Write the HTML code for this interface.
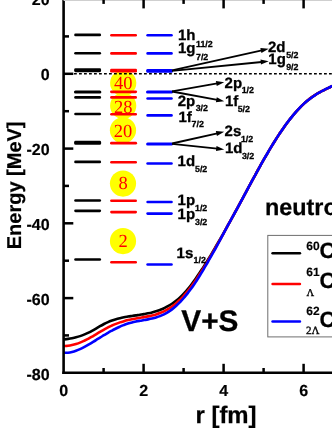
<!DOCTYPE html>
<html><head><meta charset="utf-8"><title>chart</title>
<style>
html,body{margin:0;padding:0;background:#fff;overflow:hidden}
svg{display:block;font-family:"Liberation Sans",sans-serif;text-rendering:geometricPrecision;will-change:transform;transform:translateZ(0)}
.sf{font-family:"Liberation Serif",serif}
</style></head><body>
<svg width="332" height="430" viewBox="0 0 332 430">
<rect width="332" height="430" fill="#fff"/>
<circle cx="123.2" cy="83.1" r="13.1" fill="#ffff00"/><circle cx="123.2" cy="105.8" r="13.1" fill="#ffff00"/><circle cx="123.0" cy="130.3" r="13.1" fill="#ffff00"/><circle cx="123.0" cy="183.6" r="13.1" fill="#ffff00"/><circle cx="123.0" cy="241.1" r="13.1" fill="#ffff00"/>
<line x1="64" y1="73.8" x2="332" y2="73.8" stroke="#000" stroke-width="1.6" stroke-dasharray="2.8 2.2"/>
<path d="M64.0,339.40 C64.7,339.32 66.7,339.10 68.0,338.90 C69.3,338.70 70.7,338.47 72.0,338.20 C73.3,337.93 74.7,337.63 76.0,337.28 C77.3,336.93 78.7,336.55 80.0,336.11 C81.3,335.68 82.7,335.20 84.0,334.67 C85.3,334.14 86.7,333.56 88.0,332.93 C89.3,332.29 90.7,331.59 92.0,330.86 C93.3,330.13 94.7,329.34 96.0,328.56 C97.3,327.78 98.7,326.97 100.0,326.20 C101.3,325.44 102.7,324.67 104.0,323.98 C105.3,323.29 106.7,322.65 108.0,322.07 C109.3,321.49 110.7,320.97 112.0,320.50 C113.3,320.02 114.7,319.60 116.0,319.21 C117.3,318.82 118.7,318.48 120.0,318.16 C121.3,317.84 122.7,317.56 124.0,317.30 C125.3,317.04 126.7,316.81 128.0,316.58 C129.3,316.35 130.7,316.15 132.0,315.95 C133.3,315.75 134.7,315.56 136.0,315.36 C137.3,315.16 138.7,314.97 140.0,314.76 C141.3,314.55 142.7,314.34 144.0,314.11 C145.3,313.87 146.7,313.63 148.0,313.35 C149.3,313.07 150.7,312.77 152.0,312.43 C153.3,312.09 154.7,311.72 156.0,311.31 C157.3,310.89 158.7,310.44 160.0,309.93 C161.3,309.41 162.7,308.86 164.0,308.24 C165.3,307.61 166.7,306.94 168.0,306.19 C169.3,305.44 170.7,304.63 172.0,303.73 C173.3,302.83 174.7,301.86 176.0,300.80 C177.3,299.74 178.7,298.60 180.0,297.36 C181.3,296.12 182.7,294.78 184.0,293.35 C185.3,291.92 186.7,290.38 188.0,288.77 C189.3,287.16 190.7,285.45 192.0,283.68 C193.3,281.91 194.7,280.06 196.0,278.15 C197.3,276.25 198.7,274.27 200.0,272.26 C201.3,270.24 202.7,268.17 204.0,266.07 C205.3,263.97 206.7,261.82 208.0,259.65 C209.3,257.48 210.7,255.26 212.0,253.03 C213.3,250.80 214.7,248.54 216.0,246.26 C217.3,243.98 218.7,241.69 220.0,239.37 C221.3,237.06 222.7,234.73 224.0,232.37 C225.3,230.02 226.7,227.64 228.0,225.24 C229.3,222.85 230.7,220.42 232.0,217.99 C233.3,215.55 234.7,213.09 236.0,210.63 C237.3,208.16 238.7,205.68 240.0,203.20 C241.3,200.72 242.7,198.23 244.0,195.74 C245.3,193.26 246.7,190.77 248.0,188.29 C249.3,185.81 250.7,183.34 252.0,180.88 C253.3,178.42 254.7,175.97 256.0,173.54 C257.3,171.11 258.7,168.70 260.0,166.31 C261.3,163.93 262.7,161.56 264.0,159.23 C265.3,156.90 266.7,154.59 268.0,152.32 C269.3,150.06 270.7,147.82 272.0,145.63 C273.3,143.45 274.7,141.30 276.0,139.20 C277.3,137.10 278.7,135.04 280.0,133.05 C281.3,131.05 282.7,129.10 284.0,127.21 C285.3,125.33 286.7,123.50 288.0,121.73 C289.3,119.97 290.7,118.26 292.0,116.63 C293.3,114.99 294.7,113.41 296.0,111.90 C297.3,110.39 298.7,108.94 300.0,107.56 C301.3,106.19 302.7,104.88 304.0,103.64 C305.3,102.40 306.7,101.23 308.0,100.14 C309.3,99.04 310.7,98.02 312.0,97.07 C313.3,96.12 314.7,95.25 316.0,94.43 C317.3,93.60 318.7,92.85 320.0,92.13 C321.3,91.40 322.7,90.73 324.0,90.07 C325.3,89.40 326.7,88.78 328.0,88.14 C329.3,87.50 330.7,86.89 332.0,86.24 C333.3,85.59 335.3,84.59 336.0,84.26" fill="none" stroke="#000" stroke-width="2.6" stroke-linejoin="round"/>
<path d="M64.0,346.09 C64.7,346.04 66.7,345.95 68.0,345.79 C69.3,345.62 70.7,345.38 72.0,345.09 C73.3,344.80 74.7,344.44 76.0,344.03 C77.3,343.62 78.7,343.15 80.0,342.63 C81.3,342.11 82.7,341.54 84.0,340.93 C85.3,340.31 86.7,339.65 88.0,338.95 C89.3,338.24 90.7,337.49 92.0,336.71 C93.3,335.94 94.7,335.12 96.0,334.32 C97.3,333.51 98.7,332.68 100.0,331.89 C101.3,331.09 102.7,330.30 104.0,329.55 C105.3,328.81 106.7,328.10 108.0,327.42 C109.3,326.75 110.7,326.12 112.0,325.53 C113.3,324.93 114.7,324.38 116.0,323.85 C117.3,323.33 118.7,322.85 120.0,322.39 C121.3,321.94 122.7,321.52 124.0,321.13 C125.3,320.75 126.7,320.39 128.0,320.07 C129.3,319.74 130.7,319.45 132.0,319.18 C133.3,318.91 134.7,318.68 136.0,318.44 C137.3,318.20 138.7,317.99 140.0,317.77 C141.3,317.55 142.7,317.34 144.0,317.10 C145.3,316.87 146.7,316.63 148.0,316.36 C149.3,316.10 150.7,315.82 152.0,315.49 C153.3,315.16 154.7,314.81 156.0,314.40 C157.3,314.00 158.7,313.55 160.0,313.04 C161.3,312.53 162.7,311.96 164.0,311.32 C165.3,310.68 166.7,309.97 168.0,309.18 C169.3,308.38 170.7,307.51 172.0,306.55 C173.3,305.59 174.7,304.55 176.0,303.42 C177.3,302.29 178.7,301.07 180.0,299.76 C181.3,298.45 182.7,297.05 184.0,295.55 C185.3,294.06 186.7,292.47 188.0,290.81 C189.3,289.14 190.7,287.39 192.0,285.57 C193.3,283.74 194.7,281.83 196.0,279.87 C197.3,277.90 198.7,275.85 200.0,273.77 C201.3,271.68 202.7,269.53 204.0,267.35 C205.3,265.17 206.7,262.94 208.0,260.69 C209.3,258.45 210.7,256.16 212.0,253.87 C213.3,251.57 214.7,249.25 216.0,246.91 C217.3,244.57 218.7,242.21 220.0,239.81 C221.3,237.41 222.7,234.96 224.0,232.53 C225.3,230.10 226.7,227.64 228.0,225.20 C229.3,222.77 230.7,220.37 232.0,217.95 C233.3,215.52 234.7,213.10 236.0,210.65 C237.3,208.20 238.7,205.73 240.0,203.26 C241.3,200.79 242.7,198.30 244.0,195.81 C245.3,193.33 246.7,190.84 248.0,188.36 C249.3,185.88 250.7,183.40 252.0,180.93 C253.3,178.47 254.7,176.01 256.0,173.57 C257.3,171.14 258.7,168.71 260.0,166.32 C261.3,163.93 262.7,161.56 264.0,159.22 C265.3,156.89 266.7,154.58 268.0,152.31 C269.3,150.04 270.7,147.81 272.0,145.62 C273.3,143.44 274.7,141.29 276.0,139.19 C277.3,137.09 278.7,135.04 280.0,133.04 C281.3,131.04 282.7,129.09 284.0,127.21 C285.3,125.32 286.7,123.49 288.0,121.72 C289.3,119.95 290.7,118.24 292.0,116.60 C293.3,114.95 294.7,113.37 296.0,111.86 C297.3,110.35 298.7,108.90 300.0,107.53 C301.3,106.16 302.7,104.85 304.0,103.63 C305.3,102.40 306.7,101.25 308.0,100.16 C309.3,99.08 310.7,98.07 312.0,97.13 C313.3,96.18 314.7,95.31 316.0,94.48 C317.3,93.65 318.7,92.89 320.0,92.15 C321.3,91.41 322.7,90.73 324.0,90.05 C325.3,89.37 326.7,88.74 328.0,88.10 C329.3,87.46 330.7,86.84 332.0,86.21 C333.3,85.57 335.3,84.61 336.0,84.29" fill="none" stroke="#ff0000" stroke-width="2.6" stroke-linejoin="round"/>
<path d="M64.0,352.78 C64.7,352.76 66.7,352.81 68.0,352.67 C69.3,352.54 70.7,352.29 72.0,351.97 C73.3,351.66 74.7,351.24 76.0,350.77 C77.3,350.30 78.7,349.75 80.0,349.15 C81.3,348.55 82.7,347.88 84.0,347.19 C85.3,346.49 86.7,345.73 88.0,344.96 C89.3,344.19 90.7,343.38 92.0,342.57 C93.3,341.75 94.7,340.91 96.0,340.07 C97.3,339.24 98.7,338.39 100.0,337.57 C101.3,336.74 102.7,335.92 104.0,335.12 C105.3,334.32 106.7,333.54 108.0,332.78 C109.3,332.02 110.7,331.27 112.0,330.56 C113.3,329.84 114.7,329.15 116.0,328.50 C117.3,327.84 118.7,327.21 120.0,326.62 C121.3,326.03 122.7,325.48 124.0,324.96 C125.3,324.45 126.7,323.98 128.0,323.55 C129.3,323.13 130.7,322.75 132.0,322.41 C133.3,322.08 134.7,321.79 136.0,321.52 C137.3,321.25 138.7,321.01 140.0,320.78 C141.3,320.54 142.7,320.33 144.0,320.09 C145.3,319.86 146.7,319.64 148.0,319.38 C149.3,319.13 150.7,318.86 152.0,318.55 C153.3,318.24 154.7,317.90 156.0,317.50 C157.3,317.10 158.7,316.67 160.0,316.15 C161.3,315.64 162.7,315.07 164.0,314.41 C165.3,313.74 166.7,313.01 168.0,312.17 C169.3,311.33 170.7,310.40 172.0,309.38 C173.3,308.36 174.7,307.24 176.0,306.04 C177.3,304.83 178.7,303.54 180.0,302.16 C181.3,300.78 182.7,299.31 184.0,297.75 C185.3,296.20 186.7,294.56 188.0,292.85 C189.3,291.13 190.7,289.33 192.0,287.45 C193.3,285.57 194.7,283.61 196.0,281.58 C197.3,279.55 198.7,277.43 200.0,275.28 C201.3,273.12 202.7,270.89 204.0,268.63 C205.3,266.37 206.7,264.06 208.0,261.74 C209.3,259.42 210.7,257.06 212.0,254.70 C213.3,252.34 214.7,249.97 216.0,247.56 C217.3,245.15 218.7,242.72 220.0,240.24 C221.3,237.76 222.7,235.20 224.0,232.69 C225.3,230.18 226.7,227.63 228.0,225.17 C229.3,222.70 230.7,220.32 232.0,217.91 C233.3,215.49 234.7,213.10 236.0,210.67 C237.3,208.24 238.7,205.78 240.0,203.31 C241.3,200.85 242.7,198.37 244.0,195.88 C245.3,193.40 246.7,190.91 248.0,188.43 C249.3,185.94 250.7,183.45 252.0,180.98 C253.3,178.51 254.7,176.05 256.0,173.60 C257.3,171.16 258.7,168.73 260.0,166.33 C261.3,163.94 262.7,161.56 264.0,159.22 C265.3,156.88 266.7,154.57 268.0,152.30 C269.3,150.03 270.7,147.80 272.0,145.61 C273.3,143.43 274.7,141.28 276.0,139.18 C277.3,137.09 278.7,135.03 280.0,133.04 C281.3,131.04 282.7,129.09 284.0,127.20 C285.3,125.31 286.7,123.47 288.0,121.70 C289.3,119.93 290.7,118.21 292.0,116.57 C293.3,114.92 294.7,113.33 296.0,111.82 C297.3,110.31 298.7,108.86 300.0,107.50 C301.3,106.13 302.7,104.83 304.0,103.61 C305.3,102.39 306.7,101.26 308.0,100.19 C309.3,99.12 310.7,98.13 312.0,97.18 C313.3,96.24 314.7,95.37 316.0,94.53 C317.3,93.70 318.7,92.92 320.0,92.17 C321.3,91.42 322.7,90.72 324.0,90.03 C325.3,89.35 326.7,88.70 328.0,88.06 C329.3,87.41 330.7,86.80 332.0,86.17 C333.3,85.55 335.3,84.63 336.0,84.33" fill="none" stroke="#0000ff" stroke-width="2.6" stroke-linejoin="round"/>
<line x1="75.5" y1="34.9" x2="99.8" y2="34.9" stroke="#000" stroke-width="2.6" stroke-linecap="round"/>
<line x1="75.5" y1="53.3" x2="99.8" y2="53.3" stroke="#000" stroke-width="2.6" stroke-linecap="round"/>
<line x1="75.5" y1="69.65" x2="99.8" y2="69.65" stroke="#000" stroke-width="2.6" stroke-linecap="round"/>
<line x1="75.5" y1="70.85" x2="99.8" y2="70.85" stroke="#000" stroke-width="2.6" stroke-linecap="round"/>
<line x1="75.5" y1="92.0" x2="99.8" y2="92.0" stroke="#000" stroke-width="3.1" stroke-linecap="round"/>
<line x1="75.5" y1="97.4" x2="99.8" y2="97.4" stroke="#000" stroke-width="2.6" stroke-linecap="round"/>
<line x1="75.5" y1="114.0" x2="99.8" y2="114.0" stroke="#000" stroke-width="2.6" stroke-linecap="round"/>
<line x1="75.5" y1="142.15" x2="99.8" y2="142.15" stroke="#000" stroke-width="2.6" stroke-linecap="round"/>
<line x1="75.5" y1="143.45" x2="99.8" y2="143.45" stroke="#000" stroke-width="2.6" stroke-linecap="round"/>
<line x1="75.5" y1="161.9" x2="99.8" y2="161.9" stroke="#000" stroke-width="2.6" stroke-linecap="round"/>
<line x1="75.5" y1="200.45" x2="99.8" y2="200.45" stroke="#000" stroke-width="2.6" stroke-linecap="round"/>
<line x1="75.5" y1="210.85" x2="99.8" y2="210.85" stroke="#000" stroke-width="2.6" stroke-linecap="round"/>
<line x1="75.5" y1="259.5" x2="99.8" y2="259.5" stroke="#000" stroke-width="2.6" stroke-linecap="round"/>
<line x1="111.4" y1="35.2" x2="135.7" y2="35.2" stroke="#ff0000" stroke-width="2.6" stroke-linecap="round"/>
<line x1="111.4" y1="53.4" x2="135.7" y2="53.4" stroke="#ff0000" stroke-width="2.6" stroke-linecap="round"/>
<line x1="111.4" y1="70.00" x2="135.7" y2="70.00" stroke="#ff0000" stroke-width="2.6" stroke-linecap="round"/>
<line x1="111.4" y1="71.20" x2="135.7" y2="71.20" stroke="#ff0000" stroke-width="2.6" stroke-linecap="round"/>
<line x1="111.4" y1="91.8" x2="135.7" y2="91.8" stroke="#ff0000" stroke-width="2.8" stroke-linecap="round"/>
<line x1="111.4" y1="97.4" x2="135.7" y2="97.4" stroke="#ff0000" stroke-width="2.6" stroke-linecap="round"/>
<line x1="111.4" y1="114.3" x2="135.7" y2="114.3" stroke="#ff0000" stroke-width="2.6" stroke-linecap="round"/>
<line x1="111.4" y1="143.2" x2="135.7" y2="143.2" stroke="#ff0000" stroke-width="2.8" stroke-linecap="round"/>
<line x1="111.4" y1="162.2" x2="135.7" y2="162.2" stroke="#ff0000" stroke-width="2.6" stroke-linecap="round"/>
<line x1="111.4" y1="200.7" x2="135.7" y2="200.7" stroke="#ff0000" stroke-width="2.6" stroke-linecap="round"/>
<line x1="111.4" y1="212.1" x2="135.7" y2="212.1" stroke="#ff0000" stroke-width="2.6" stroke-linecap="round"/>
<line x1="111.4" y1="262.2" x2="135.7" y2="262.2" stroke="#ff0000" stroke-width="2.6" stroke-linecap="round"/>
<line x1="147.6" y1="35.2" x2="171.5" y2="35.2" stroke="#0000ff" stroke-width="2.6" stroke-linecap="round"/>
<line x1="147.6" y1="53.4" x2="171.5" y2="53.4" stroke="#0000ff" stroke-width="2.6" stroke-linecap="round"/>
<line x1="147.6" y1="70.30" x2="171.5" y2="70.30" stroke="#0000ff" stroke-width="2.6" stroke-linecap="round"/>
<line x1="147.6" y1="71.50" x2="171.5" y2="71.50" stroke="#0000ff" stroke-width="2.6" stroke-linecap="round"/>
<line x1="147.6" y1="92.0" x2="171.5" y2="92.0" stroke="#0000ff" stroke-width="3.2" stroke-linecap="round"/>
<line x1="147.6" y1="98.5" x2="171.5" y2="98.5" stroke="#0000ff" stroke-width="2.6" stroke-linecap="round"/>
<line x1="147.6" y1="115.4" x2="171.5" y2="115.4" stroke="#0000ff" stroke-width="2.6" stroke-linecap="round"/>
<line x1="147.6" y1="144.0" x2="171.5" y2="144.0" stroke="#0000ff" stroke-width="3.0" stroke-linecap="round"/>
<line x1="147.6" y1="163.5" x2="171.5" y2="163.5" stroke="#0000ff" stroke-width="2.6" stroke-linecap="round"/>
<line x1="147.6" y1="202.0" x2="171.5" y2="202.0" stroke="#0000ff" stroke-width="2.6" stroke-linecap="round"/>
<line x1="147.6" y1="213.6" x2="171.5" y2="213.6" stroke="#0000ff" stroke-width="2.6" stroke-linecap="round"/>
<line x1="147.6" y1="264.5" x2="171.5" y2="264.5" stroke="#0000ff" stroke-width="2.6" stroke-linecap="round"/>
<text x="123.2" y="88.6" class="sf" font-size="18.5" fill="#ff0000" text-anchor="middle">40</text>
<text x="123.2" y="112.6" class="sf" font-size="18.5" fill="#ff0000" text-anchor="middle">28</text>
<text x="123.0" y="137.4" class="sf" font-size="18.5" fill="#ff0000" text-anchor="middle">20</text>
<text x="123.0" y="189.2" class="sf" font-size="18.5" fill="#ff0000" text-anchor="middle">8</text>
<text x="123.0" y="246.7" class="sf" font-size="18.5" fill="#ff0000" text-anchor="middle">2</text>
<line x1="63.6" y1="0" x2="63.6" y2="374" stroke="#000" stroke-width="2.6"/>
<line x1="62.300000000000004" y1="372.8" x2="332" y2="372.8" stroke="#000" stroke-width="2.5"/>
<line x1="63.6" y1="0.5" x2="332" y2="0.5" stroke="#cfcfcf" stroke-width="1"/>
<line x1="63.6" y1="73.8" x2="73.3" y2="73.8" stroke="#000" stroke-width="2.5"/>
<line x1="63.6" y1="148.6" x2="73.3" y2="148.6" stroke="#000" stroke-width="2.5"/>
<line x1="63.6" y1="223.3" x2="73.3" y2="223.3" stroke="#000" stroke-width="2.5"/>
<line x1="63.6" y1="298.1" x2="73.3" y2="298.1" stroke="#000" stroke-width="2.5"/>
<line x1="63.6" y1="36.4" x2="69" y2="36.4" stroke="#000" stroke-width="2.5"/>
<line x1="63.6" y1="111.2" x2="69" y2="111.2" stroke="#000" stroke-width="2.5"/>
<line x1="63.6" y1="185.9" x2="69" y2="185.9" stroke="#000" stroke-width="2.5"/>
<line x1="63.6" y1="260.7" x2="69" y2="260.7" stroke="#000" stroke-width="2.5"/>
<line x1="63.6" y1="335.4" x2="69" y2="335.4" stroke="#000" stroke-width="2.5"/>
<line x1="143.6" y1="363.8" x2="143.6" y2="373" stroke="#000" stroke-width="2.5"/>
<line x1="143.6" y1="0" x2="143.6" y2="8.4" stroke="#000" stroke-width="2.5"/>
<line x1="223.6" y1="363.8" x2="223.6" y2="373" stroke="#000" stroke-width="2.5"/>
<line x1="223.6" y1="0" x2="223.6" y2="8.4" stroke="#000" stroke-width="2.5"/>
<line x1="303.6" y1="363.8" x2="303.6" y2="373" stroke="#000" stroke-width="2.5"/>
<line x1="303.6" y1="0" x2="303.6" y2="8.4" stroke="#000" stroke-width="2.5"/>
<line x1="103.6" y1="368.0" x2="103.6" y2="373" stroke="#000" stroke-width="2.5"/>
<line x1="103.6" y1="0" x2="103.6" y2="3.9" stroke="#000" stroke-width="2.5"/>
<line x1="183.6" y1="368.0" x2="183.6" y2="373" stroke="#000" stroke-width="2.5"/>
<line x1="183.6" y1="0" x2="183.6" y2="3.9" stroke="#000" stroke-width="2.5"/>
<line x1="263.6" y1="368.0" x2="263.6" y2="373" stroke="#000" stroke-width="2.5"/>
<line x1="263.6" y1="0" x2="263.6" y2="3.9" stroke="#000" stroke-width="2.5"/>
<text x="49.6" y="5.4" font-size="16" font-weight="bold" text-anchor="end" stroke="#000" stroke-width="0.2">20</text>
<text x="49.6" y="80.3" font-size="16" font-weight="bold" text-anchor="end" stroke="#000" stroke-width="0.2">0</text>
<text x="49.6" y="155.2" font-size="16" font-weight="bold" text-anchor="end" stroke="#000" stroke-width="0.2">-20</text>
<text x="49.6" y="230.1" font-size="16" font-weight="bold" text-anchor="end" stroke="#000" stroke-width="0.2">-40</text>
<text x="49.6" y="304.9" font-size="16" font-weight="bold" text-anchor="end" stroke="#000" stroke-width="0.2">-60</text>
<text x="49.6" y="379.8" font-size="16" font-weight="bold" text-anchor="end" stroke="#000" stroke-width="0.2">-80</text>
<text x="63.6" y="396.0" font-size="16" font-weight="bold" text-anchor="middle" stroke="#000" stroke-width="0.2">0</text>
<text x="143.6" y="396.0" font-size="16" font-weight="bold" text-anchor="middle" stroke="#000" stroke-width="0.2">2</text>
<text x="223.6" y="396.0" font-size="16" font-weight="bold" text-anchor="middle" stroke="#000" stroke-width="0.2">4</text>
<text x="303.6" y="396.0" font-size="16" font-weight="bold" text-anchor="middle" stroke="#000" stroke-width="0.2">6</text>
<text transform="translate(20.7,249.3) rotate(-90)" font-size="20" font-weight="bold" stroke="#000" stroke-width="0.2">Energy [MeV]</text>
<text x="195.5" y="423.0" font-size="23.9" font-weight="bold" stroke="#000" stroke-width="0.25">r [fm]</text>
<text x="181.3" y="330.9" font-size="29.8" font-weight="bold" stroke="#000" stroke-width="0.3">V+S</text>
<text x="265" y="215.2" font-size="23.4" font-weight="bold" stroke="#000" stroke-width="0.25">neutron</text>
<text x="177.9" y="40.1" font-size="15" font-weight="bold" stroke="#000" stroke-width="0.3">1h</text><text x="196.0" y="46.9" font-size="8.8" font-weight="bold" stroke="#000" stroke-width="0.3">11/2</text>
<text x="177.9" y="53.4" font-size="15" font-weight="bold" stroke="#000" stroke-width="0.3">1g</text><text x="196.0" y="59.7" font-size="8.8" font-weight="bold" stroke="#000" stroke-width="0.3">7/2</text>
<text x="268.0" y="51.8" font-size="15" font-weight="bold" stroke="#000" stroke-width="0.3">2d</text><text x="286.2" y="57.8" font-size="8.8" font-weight="bold" stroke="#000" stroke-width="0.3">5/2</text>
<text x="268.3" y="63.9" font-size="15" font-weight="bold" stroke="#000" stroke-width="0.3">1g</text><text x="286.2" y="70.1" font-size="8.8" font-weight="bold" stroke="#000" stroke-width="0.3">9/2</text>
<text x="224.6" y="87.6" font-size="15" font-weight="bold" stroke="#000" stroke-width="0.3">2p</text><text x="241.7" y="92.6" font-size="8.8" font-weight="bold" stroke="#000" stroke-width="0.3">1/2</text>
<text x="225.0" y="106" font-size="15" font-weight="bold" stroke="#000" stroke-width="0.3">1f</text><text x="237.7" y="112" font-size="8.8" font-weight="bold" stroke="#000" stroke-width="0.3">5/2</text>
<text x="177.7" y="106" font-size="15" font-weight="bold" stroke="#000" stroke-width="0.3">2p</text><text x="195.7" y="111.3" font-size="8.8" font-weight="bold" stroke="#000" stroke-width="0.3">3/2</text>
<text x="178.4" y="121.5" font-size="15" font-weight="bold" stroke="#000" stroke-width="0.3">1f</text><text x="191.6" y="127" font-size="8.8" font-weight="bold" stroke="#000" stroke-width="0.3">7/2</text>
<text x="224.6" y="136.4" font-size="15" font-weight="bold" stroke="#000" stroke-width="0.3">2s</text><text x="240.9" y="141.8" font-size="8.8" font-weight="bold" stroke="#000" stroke-width="0.3">1/2</text>
<text x="225.0" y="152.7" font-size="15" font-weight="bold" stroke="#000" stroke-width="0.3">1d</text><text x="241.9" y="158.9" font-size="8.8" font-weight="bold" stroke="#000" stroke-width="0.3">3/2</text>
<text x="177.6" y="166.2" font-size="15" font-weight="bold" stroke="#000" stroke-width="0.3">1d</text><text x="195.0" y="172.4" font-size="8.8" font-weight="bold" stroke="#000" stroke-width="0.3">5/2</text>
<text x="177.6" y="205.2" font-size="15" font-weight="bold" stroke="#000" stroke-width="0.3">1p</text><text x="195.0" y="210.6" font-size="8.8" font-weight="bold" stroke="#000" stroke-width="0.3">1/2</text>
<text x="177.6" y="218.5" font-size="15" font-weight="bold" stroke="#000" stroke-width="0.3">1p</text><text x="195.0" y="224.8" font-size="8.8" font-weight="bold" stroke="#000" stroke-width="0.3">3/2</text>
<text x="176.6" y="257.5" font-size="15" font-weight="bold" stroke="#000" stroke-width="0.3">1s</text><text x="193.6" y="263.1" font-size="8.8" font-weight="bold" stroke="#000" stroke-width="0.3">1/2</text>
<line x1="172" y1="70.4" x2="261.87" y2="50.33" stroke="#000" stroke-width="1.8"/><polygon points="268.70,48.80 261.44,52.98 260.35,48.10" fill="#000"/>
<line x1="172" y1="70.8" x2="261.73" y2="61.98" stroke="#000" stroke-width="1.8"/><polygon points="268.70,61.30 260.98,64.57 260.49,59.59" fill="#000"/>
<line x1="172" y1="91.3" x2="217.30" y2="83.40" stroke="#000" stroke-width="1.8"/><polygon points="224.20,82.20 216.75,86.04 215.89,81.11" fill="#000"/>
<line x1="172" y1="91.5" x2="217.32" y2="99.92" stroke="#000" stroke-width="1.8"/><polygon points="224.20,101.20 215.88,102.20 216.79,97.28" fill="#000"/>
<line x1="172" y1="143.5" x2="217.37" y2="133.33" stroke="#000" stroke-width="1.8"/><polygon points="224.20,131.80 216.94,135.99 215.85,131.11" fill="#000"/>
<line x1="172" y1="143.8" x2="217.24" y2="148.65" stroke="#000" stroke-width="1.8"/><polygon points="224.20,149.40 215.98,151.03 216.51,146.06" fill="#000"/>
<rect x="267.8" y="235.4" width="80" height="101.5" fill="#fff" stroke="#6e6e6e" stroke-width="1"/>
<line x1="272.6" y1="253.3" x2="299.9" y2="253.3" stroke="#000" stroke-width="2.6" stroke-linecap="round"/>
<line x1="272.6" y1="284.0" x2="299.9" y2="284.0" stroke="#ff0000" stroke-width="2.6" stroke-linecap="round"/>
<line x1="272.6" y1="321.5" x2="299.9" y2="321.5" stroke="#0000ff" stroke-width="2.6" stroke-linecap="round"/>
<text x="306.3" y="250.4" font-size="12" font-weight="bold" stroke="#000" stroke-width="0.15">60</text><text x="319.4" y="258.0" font-size="22" font-weight="bold" stroke="#000" stroke-width="0.25">Co</text>
<text x="306.3" y="276.3" font-size="12" font-weight="bold" stroke="#000" stroke-width="0.15">61</text><text x="319.4" y="288.0" font-size="22" font-weight="bold" stroke="#000" stroke-width="0.25">Co</text>
<text x="306.6" y="296" font-size="10.5" class="sf" stroke="#000" stroke-width="0.35">Λ</text>
<text x="306.3" y="314.6" font-size="12" font-weight="bold" stroke="#000" stroke-width="0.15">62</text><text x="319.4" y="326.8" font-size="22" font-weight="bold" stroke="#000" stroke-width="0.25">Co</text>
<text x="306.0" y="334.4" font-size="11" class="sf" stroke="#000" stroke-width="0.35">2Λ</text>
</svg>
</body></html>
